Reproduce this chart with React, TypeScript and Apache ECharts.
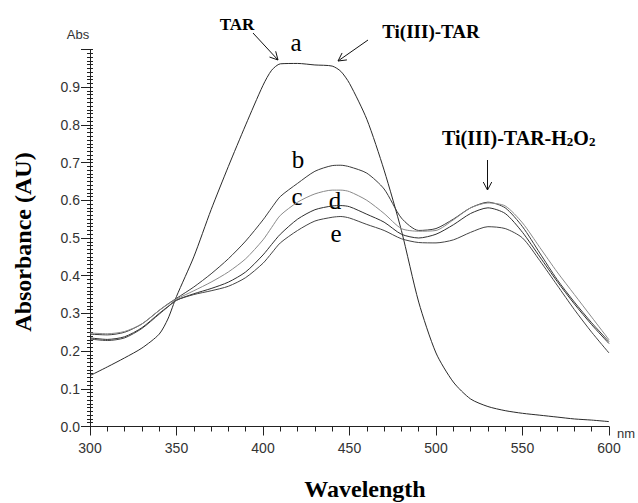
import React, { useEffect, useRef } from "react";
import * as echarts from "echarts";

// Wavelength (nm) sample points
const wavelengths = [300, 310, 320, 330, 340, 345, 350, 360, 370, 380, 390, 400, 405, 410, 420, 430, 440, 445, 450, 460, 470, 480, 490, 500, 510, 520, 530, 540, 550, 560, 570, 580, 590, 600];

// Absorbance of each curve
const curveA = [0.135, 0.158, 0.182, 0.208, 0.245, 0.285, 0.345, 0.45, 0.575, 0.69, 0.80, 0.905, 0.945, 0.962, 0.963, 0.959, 0.956, 0.942, 0.91, 0.815, 0.68, 0.52, 0.33, 0.195, 0.118, 0.073, 0.053, 0.042, 0.035, 0.03, 0.025, 0.02, 0.017, 0.013];
const curveB = [0.245, 0.243, 0.25, 0.272, 0.308, 0.325, 0.34, 0.37, 0.405, 0.445, 0.492, 0.548, 0.58, 0.61, 0.645, 0.677, 0.692, 0.693, 0.689, 0.672, 0.63, 0.553, 0.52, 0.525, 0.55, 0.58, 0.595, 0.58, 0.53, 0.46, 0.39, 0.33, 0.275, 0.225];
const curveC = [0.248, 0.246, 0.252, 0.272, 0.308, 0.324, 0.338, 0.36, 0.383, 0.41, 0.445, 0.495, 0.528, 0.56, 0.595, 0.617, 0.627, 0.627, 0.623, 0.60, 0.565, 0.525, 0.518, 0.52, 0.548, 0.58, 0.593, 0.585, 0.54, 0.475, 0.41, 0.35, 0.29, 0.23];
const curveD = [0.235, 0.231, 0.238, 0.262, 0.30, 0.318, 0.335, 0.352, 0.366, 0.383, 0.41, 0.455, 0.483, 0.51, 0.55, 0.575, 0.585, 0.586, 0.583, 0.563, 0.542, 0.51, 0.50, 0.51, 0.535, 0.565, 0.58, 0.565, 0.515, 0.45, 0.385, 0.325, 0.27, 0.22];
const curveE = [0.232, 0.228, 0.235, 0.26, 0.298, 0.317, 0.335, 0.35, 0.36, 0.372, 0.395, 0.433, 0.46, 0.487, 0.52, 0.545, 0.555, 0.557, 0.553, 0.536, 0.52, 0.498, 0.488, 0.487, 0.495, 0.515, 0.53, 0.525, 0.50, 0.44, 0.375, 0.31, 0.25, 0.195];

const seriesNames = ["a", "b", "c", "d", "e"];
const seriesValues = [curveA, curveB, curveC, curveD, curveE];
const seriesColors = ["#2a2a2a", "#3a3a3a", "#8a8a8a", "#2f2f2f", "#444444"];

const xTicks = { min: 300, max: 600, interval: 50 };
const yTicks = { min: 0, max: 1.0, interval: 0.1 };

function arrow(x1: number, y1: number, x2: number, y2: number) {
  const dx = x2 - x1;
  const dy = y2 - y1;
  const len = Math.sqrt(dx * dx + dy * dy);
  const ux = dx / len;
  const uy = dy / len;
  const h = 9;
  const ang = (28 * Math.PI) / 180;
  const rot = (a: number) => [ux * Math.cos(a) - uy * Math.sin(a), ux * Math.sin(a) + uy * Math.cos(a)];
  const [r1x, r1y] = rot(ang);
  const [r2x, r2y] = rot(-ang);
  return [
    { type: "line", shape: { x1, y1, x2, y2 }, style: { stroke: "#111", lineWidth: 1 } },
    {
      type: "polyline",
      shape: { points: [[x2 - h * r1x, y2 - h * r1y], [x2, y2], [x2 - h * r2x, y2 - h * r2y]] },
      style: { stroke: "#111", lineWidth: 1, fill: "none" },
    },
  ];
}

export default function App() {
  const ref = useRef<HTMLDivElement>(null);
  useEffect(() => {
    document.body.style.margin = "0";
    if (!ref.current) return;
    const chart = echarts.init(ref.current, null, { renderer: "svg" });
    const sans = "'Liberation Sans', Arial, sans-serif";
    const serif = "'Liberation Serif', 'Times New Roman', serif";
    const labelText = (text: string, x: number, y: number) => ({
      type: "text",
      x,
      y,
      style: { text, fill: "#000", font: `25px ${serif}`, align: "center", verticalAlign: "middle" },
    });
    chart.setOption({
      animation: false,
      grid: { left: 90, right: 29, top: 49.5, bottom: 76.5, containLabel: false, outerBoundsMode: "none" },
      xAxis: {
        type: "value",
        min: xTicks.min,
        max: xTicks.max,
        interval: xTicks.interval,
        axisLine: { show: true, lineStyle: { color: "#222", width: 1 } },
        axisTick: { show: true, length: 9, lineStyle: { color: "#222" } },
        minorTick: { show: true, splitNumber: 5, length: 5, lineStyle: { color: "#222" } },
        splitLine: { show: false },
        axisLabel: { color: "#333", fontFamily: sans, fontSize: 14, margin: 14 },
      },
      yAxis: [
        {
          type: "value",
          min: yTicks.min,
          max: yTicks.max,
          interval: yTicks.interval,
          axisLine: { show: true, lineStyle: { color: "#222", width: 1 } },
          axisTick: { show: true, length: 9, lineStyle: { color: "#222" } },
          minorTick: { show: true, splitNumber: 10, length: 3, lineStyle: { color: "#222" } },
          splitLine: { show: false },
          axisLabel: {
            color: "#333",
            fontFamily: sans,
            fontSize: 14,
            margin: 10,
            formatter: (v: number) => (v > 0.999 ? "" : v.toFixed(1)),
          },
        },
        {
          type: "value",
          position: "left",
          min: yTicks.min,
          max: yTicks.max,
          interval: yTicks.interval,
          axisLine: { show: false },
          axisTick: { show: true, inside: true, length: 3, lineStyle: { color: "#222" } },
          minorTick: { show: true, splitNumber: 10, length: 3, lineStyle: { color: "#222" } },
          splitLine: { show: false },
          axisLabel: { show: false },
        },
      ],
      series: seriesNames.map((name, i) => ({
        name,
        type: "line",
        yAxisIndex: 0,
        data: wavelengths.map((w, j) => [w, seriesValues[i][j]]),
        smooth: 0.25,
        showSymbol: false,
        symbol: "none",
        lineStyle: { color: seriesColors[i], width: 1 },
      })),
      graphic: [
        { type: "text", x: 78, y: 34, style: { text: "Abs", fill: "#333", font: `13px ${sans}`, align: "center", verticalAlign: "middle" } },
        { type: "text", x: 626, y: 433, style: { text: "nm", fill: "#333", font: `13px ${sans}`, align: "center", verticalAlign: "middle" } },
        {
          type: "text",
          x: 23,
          y: 242,
          rotation: Math.PI / 2,
          style: { text: "Absorbance (AU)", fill: "#000", font: `bold 24px ${serif}`, align: "center", verticalAlign: "middle" },
        },
        { type: "text", x: 365, y: 489, style: { text: "Wavelength", fill: "#000", font: `bold 24px ${serif}`, align: "center", verticalAlign: "middle" } },
        { type: "text", x: 237, y: 24, style: { text: "TAR", fill: "#000", font: `bold 17px ${serif}`, align: "center", verticalAlign: "middle" } },
        { type: "text", x: 431, y: 31, style: { text: "Ti(III)-TAR", fill: "#000", font: `bold 19px ${serif}`, align: "center", verticalAlign: "middle" } },
        {
          type: "text",
          x: 442,
          y: 125,
          style: {
            text: "{m|Ti(III)-TAR-H}{s|2}{m|O}{s|2}",
            fill: "#000",
            rich: {
              m: { fontFamily: serif, fontWeight: "bold", fontSize: 20, lineHeight: 23, verticalAlign: "bottom" },
              s: { fontFamily: serif, fontWeight: "bold", fontSize: 13, lineHeight: 13, verticalAlign: "bottom" },
            },
          },
        },
        ...arrow(253, 33, 278, 60),
        ...arrow(368, 40, 338, 61),
        ...arrow(487.5, 160, 487.5, 190),
        labelText("a", 296, 42.5),
        labelText("b", 298, 159),
        labelText("c", 297, 196),
        labelText("d", 335, 200),
        labelText("e", 336, 233),
      ],
    });
    return () => chart.dispose();
  }, []);
  return <div ref={ref} style={{ width: 638, height: 503 }} />;
}
